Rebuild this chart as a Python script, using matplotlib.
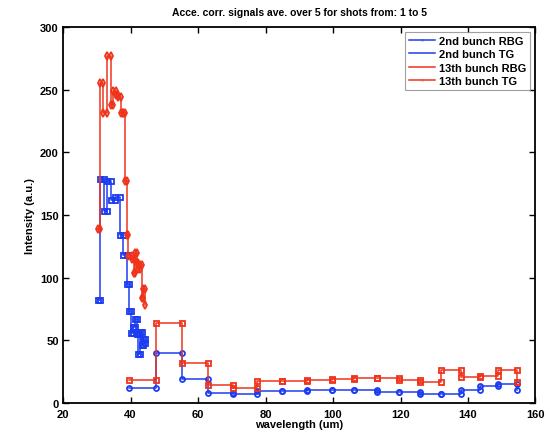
import numpy as np
import matplotlib
matplotlib.use("Agg")
import matplotlib.pyplot as plt

plt.rcParams['font.family'] = ['Liberation Sans', 'DejaVu Sans']
plt.rcParams['font.weight'] = 'bold'

# Spectrometer readings (wavelength in um, intensity in a.u.)
rbg2_wl = [30.3, 31.0, 32.0, 33.0, 34.2, 35.4, 36.9, 37.9, 38.9, 39.5, 40.0,
           40.8, 41.3, 41.8, 42.3, 42.8, 43.3, 43.8, 44.3]
rbg2_int = [82, 179, 153, 177, 162, 164, 134, 118, 95, 73, 56,
            61, 67, 55, 39, 57, 46, 51, 48]

tg_wl = [39.6, 47.6, 55.3, 63.1, 70.5, 77.6, 84.8, 92.2, 99.6, 106.2, 112.9,
         119.6, 125.8, 131.9, 137.8, 143.6, 149.0, 154.4]
tg2_int = [11.7, 39.6, 19.1, 8.0, 6.9, 9.6, 9.6, 10.6, 10.6, 10.3, 9.0,
           9.0, 7.4, 7.4, 10.6, 13.8, 14.9, 10.6]

rbg13_wl = [30.3, 31.0, 31.9, 33.1, 34.3, 34.9, 35.6, 36.3, 37.2, 37.9, 38.5,
            38.9, 39.4, 40.3, 41.0, 41.3, 41.8, 42.3, 42.8, 43.3, 43.8, 44.3]
rbg13_int = [139, 255, 231, 277, 238, 249, 246, 244, 231, 231, 177,
             134, 117, 115, 104, 120, 112, 107, 110, 84, 91, 78]

tg13_int = [18.1, 63.8, 31.7, 14.4, 11.7, 17.6, 17.6, 18.6, 18.9, 20.2, 19.7,
            18.1, 16.5, 26.1, 20.7, 21.8, 26.1, 17.0]

labels = ['2nd bunch RBG', '2nd bunch TG', '13th bunch RBG', '13th bunch TG']
blue = '#1c3cf0'
red = '#f0341c'


def stair_vertices(x, y):
    x = np.asarray(x, float)
    y = np.asarray(y, float)
    xs = np.empty(2 * len(x) - 1)
    ys = np.empty(2 * len(x) - 1)
    xs[0::2] = x
    ys[0::2] = y
    xs[1::2] = x[1:]
    ys[1::2] = y[:-1]
    return xs, ys


fig = plt.figure(figsize=(5.49, 4.35), dpi=100)
ax = fig.add_axes([0.1148, 0.0713, 0.8606, 0.8643])

series = [
    (rbg2_wl, rbg2_int, blue, 's'),
    (tg_wl, tg2_int, blue, 'o'),
    (rbg13_wl, rbg13_int, red, 'd'),
    (tg_wl, tg13_int, red, 's'),
]
for (x, y, c, m), lab in zip(series, labels):
    xs, ys = stair_vertices(x, y)
    ax.plot(xs, ys, color=c, lw=1.1, marker=m, ms=3.6, mfc='none', mew=1.3,
            label=lab)

ax.set_xlim(20, 160)
ax.set_ylim(0, 300)
ax.set_xticks(np.arange(20, 161, 20))
ax.set_yticks(np.arange(0, 301, 50))
ax.tick_params(direction='in', top=True, right=True, labelsize=8, length=4,
               width=1)
ax.tick_params(axis='x', pad=4)
ax.tick_params(axis='y', pad=3)
for s in ax.spines.values():
    s.set_linewidth(1.3)

ax.set_xlabel('wavelength (um)', fontsize=8, fontweight='bold', labelpad=0)
ax.set_ylabel('Intensity (a.u.)', fontsize=8, fontweight='bold', labelpad=4)
ax.set_title('Acce. corr. signals ave. over 5 for shots from: 1 to 5',
             fontsize=7.5, fontweight='bold', pad=9)

leg = ax.legend(loc='upper right', fontsize=8, handlelength=2.3,
                fancybox=False, edgecolor='#888888', borderpad=0.35,
                labelspacing=0.3, handletextpad=0.4, borderaxespad=0.45,
                markerscale=0.0001)
leg.get_frame().set_linewidth(0.8)

fig.savefig('out.png', dpi=100)
